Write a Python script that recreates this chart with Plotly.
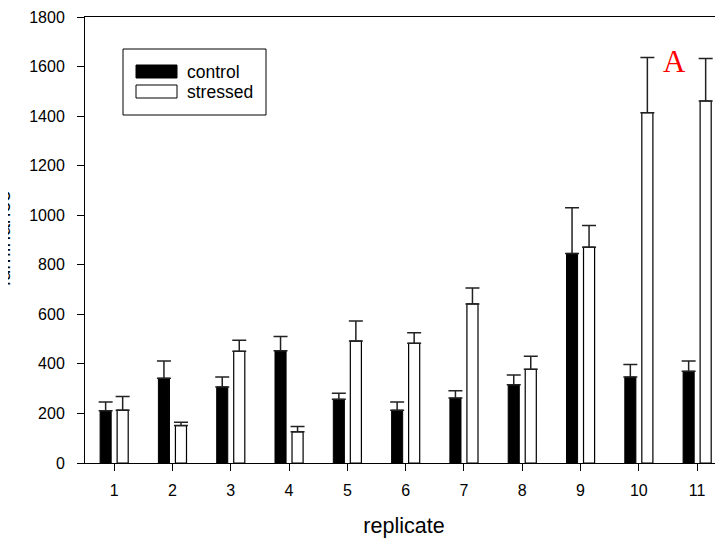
import plotly.graph_objects as go

replicates = list(range(1, 12))
tick_labels = [str(i) for i in replicates]
control = [211, 342, 307, 453, 257, 213, 262, 316, 846, 347, 370]
control_err = [35, 70, 40, 58, 25, 33, 30, 39, 184, 51, 42]
stressed = [213, 151, 451, 126, 492, 483, 642, 378, 871, 1414, 1461]
stressed_err = [55, 13, 44, 21, 81, 43, 64, 53, 88, 223, 172]
y_ticks = list(range(0, 2000, 200))

FONT = "Liberation Sans, Arial, sans-serif"
OFF = 8  # page body margin
W, H = 723 - OFF, 538 - OFF
ML, MR, MT, MB = 85 - OFF, 0, 17 - OFF, 75
PW, PH = W - ML - MR, H - MT - MB


def px(x):
    return (x - OFF - ML) / PW


def py(y):
    return (H - MB - (y - OFF)) / PH


bw = 0.19
err_style = dict(type="data", symmetric=False, color="#222", thickness=1.5, width=7)

fig = go.Figure()
fig.add_trace(go.Bar(
    x=replicates, y=control, name="control", width=bw, offset=-0.241,
    marker=dict(color="black", line=dict(color="black", width=1)),
    error_y=dict(array=control_err, arrayminus=[0] * len(control), **err_style),
    showlegend=False,
))
fig.add_trace(go.Bar(
    x=replicates, y=stressed, name="stressed", width=bw, offset=0.051,
    marker=dict(color="white", line=dict(color="black", width=1.2)),
    error_y=dict(array=stressed_err, arrayminus=[0] * len(stressed), **err_style),
    showlegend=False,
))

# manual legend
shapes = [
    dict(type="rect", xref="paper", yref="paper", x0=px(123), x1=px(266), y0=py(115), y1=py(49),
         line=dict(color="black", width=1), fillcolor="white", layer="above"),
    dict(type="rect", xref="paper", yref="paper", x0=px(136), x1=px(177), y0=py(78), y1=py(65),
         line=dict(color="black", width=1), fillcolor="black", layer="above"),
    dict(type="rect", xref="paper", yref="paper", x0=px(136), x1=px(177), y0=py(98), y1=py(85),
         line=dict(color="black", width=1), fillcolor="white", layer="above"),
]
annotations = [
    dict(text="control", xref="paper", yref="paper", x=px(185), y=py(72), xanchor="left", yanchor="middle",
         showarrow=False, font=dict(family=FONT, size=17.5, color="black")),
    dict(text="stressed", xref="paper", yref="paper", x=px(185), y=py(92), xanchor="left", yanchor="middle",
         showarrow=False, font=dict(family=FONT, size=17.5, color="black")),
    dict(text="A", xref="paper", yref="paper", x=px(674), y=py(62), xanchor="center", yanchor="middle",
         showarrow=False, font=dict(family="Liberation Serif, Times New Roman, serif", size=31, color="red")),
    dict(text="luminance", xref="paper", yref="paper", x=px(2), y=py(238), xanchor="center", yanchor="middle",
         textangle=-90, showarrow=False, font=dict(family=FONT, size=21, color="black")),
]

fig.update_layout(
    width=W, height=H,
    margin=dict(l=ML, r=MR, t=MT, b=MB, pad=0),
    plot_bgcolor="white", paper_bgcolor="white",
    barmode="overlay",
    font=dict(family=FONT, size=16, color="black"),
    shapes=shapes, annotations=annotations,
    xaxis=dict(
        range=[0.5, 0.5 + PW / 58.3], tickmode="array", tickvals=replicates, ticktext=tick_labels,
        showline=True, linecolor="black", linewidth=1, mirror=True, automargin=False,
        ticks="outside", ticklen=7, tickcolor="black", showgrid=False, zeroline=False,
        title=dict(text="replicate", font=dict(family=FONT, size=21.5), standoff=20),
        tickfont=dict(size=16), ticklabelstandoff=6,
    ),
    yaxis=dict(
        range=[0, 1800], tickmode="array", tickvals=y_ticks,
        showline=True, linecolor="black", linewidth=1, mirror=False, automargin=False,
        ticks="outside", ticklen=7, tickcolor="black", showgrid=False, zeroline=False,
        tickfont=dict(size=16), ticklabelstandoff=9,
    ),
)

fig.write_html("out.html")
